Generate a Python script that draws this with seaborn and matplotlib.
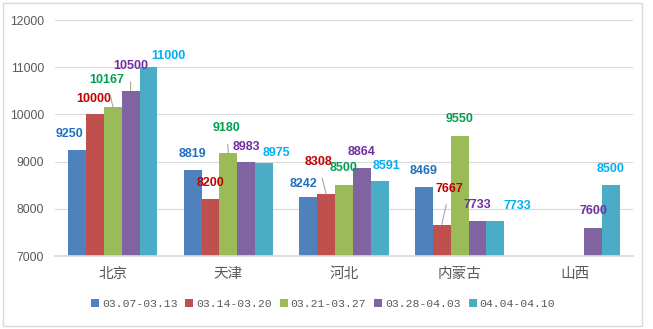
import numpy as np
import pandas as pd
import matplotlib
matplotlib.use("Agg")
import matplotlib.pyplot as plt
import seaborn as sns
from matplotlib.patches import Rectangle

# ---- data ----
provinces = ["北京", "天津", "河北", "内蒙古", "山西"]
weeks = ["03.07-03.13", "03.14-03.20", "03.21-03.27", "03.28-04.03", "04.04-04.10"]
w1 = [9250, 8819, 8242, 8469, np.nan]
w2 = [10000, 8200, 8308, 7667, np.nan]
w3 = [10167, 9180, 8500, 9550, np.nan]
w4 = [10500, 8983, 8864, 7733, 7600]
w5 = [11000, 8975, 8591, 7733, 8500]
yticks = [7000, 8000, 9000, 10000, 11000, 12000]

bar_colors = ["#4F81BD", "#C0504D", "#9BBB59", "#8064A2", "#4BACC6"]
label_colors = ["#1F6FC0", "#C00000", "#00A050", "#7030A0", "#00B0F0"]

# label offsets in pixels (dx, dy from bar top), per series per province
offsets = [
    [(-8, 16), (0, 16), (-5, 13), (0, 16), (0, 16)],
    [(-1, 15), (0, 16), (-8, 32), (8, 36), (0, 16)],
    [(-6, 27), (-2, 25), (0, 17), (0, 17), (0, 16)],
    [(0, 25), (0, 15), (0, 16), (0, 16), (0, 17)],
    [(20, 11), (12, 10), (7, 15), (22, 15), (0, 16)],
]
leader = {(1, 2), (1, 3), (2, 0), (2, 1), (3, 0)}

series = [w1, w2, w3, w4, w5]
df = pd.DataFrame({
    "province": [p for _ in weeks for p in provinces],
    "week": np.repeat(weeks, len(provinces)),
    "value": np.concatenate(series),
})

sns.set_theme(style="white")
plt.rcParams["font.family"] = ["Noto Sans CJK SC", "DejaVu Sans"]

fig = plt.figure(figsize=(6.53, 3.29), dpi=100)
ax = fig.add_axes([55 / 653, 1 - 256 / 329, (633 - 55) / 653, (256 - 20) / 329])

sns.barplot(data=df, x="province", y="value", hue="week",
            order=provinces, hue_order=weeks, palette=bar_colors,
            width=0.77, gap=0, ax=ax, legend=True, saturation=1, edgecolor="none")

ax.set_ylim(7000, 12000)
ax.set_yticks(yticks)
ax.set_yticklabels([str(t) for t in yticks], fontsize=8.8, color="#595959",
                   family="Liberation Sans")
ax.set_xlabel("")
ax.set_ylabel("")
ax.tick_params(axis="x", labelsize=10.5, colors="#595959", length=0, pad=8)
ax.tick_params(axis="y", length=0, pad=8)
ax.grid(axis="y", color="#D9D9D9", linewidth=0.8)
ax.set_axisbelow(True)
for s in ["top", "right", "left"]:
    ax.spines[s].set_visible(False)
ax.spines["bottom"].set_color("#D9D9D9")

# labels
for si, cont in enumerate(ax.containers):
    for pi, rect in enumerate(cont.patches):
        v = series[si][pi]
        if np.isnan(v):
            continue
        xc = rect.get_x() + rect.get_width() / 2
        top = rect.get_y() + rect.get_height()
        dx, dy = offsets[si][pi]
        arrow = None
        if (si, pi) in leader:
            arrow = dict(arrowstyle="-", color="#A6A6A6", lw=0.8,
                         shrinkA=5, shrinkB=0)
        ax.annotate(f"{int(v)}", xy=(xc, top), xytext=(dx, dy),
                    textcoords="offset pixels", ha="center", va="center",
                    fontsize=9, fontweight="bold", color=label_colors[si],
                    family="Liberation Sans", arrowprops=arrow,
                    annotation_clip=False)

leg = ax.get_legend()
handles, labels = ax.get_legend_handles_labels()
leg.remove()
fig.legend(handles, labels, loc="center", bbox_to_anchor=(323 / 653, 1 - 304 / 329),
           ncol=5, frameon=False, handlelength=0.7, handleheight=0.7,
           handletextpad=0.25, columnspacing=0.7,
           prop={"family": "Liberation Mono", "size": 8.2})
for t in fig.legends[0].get_texts():
    t.set_color("#595959")

fig.patches.append(Rectangle((3 / 653, 1 - 326 / 329), (642 - 3) / 653, (326 - 3) / 329,
                             transform=fig.transFigure, fill=False,
                             edgecolor="#D9D9D9", linewidth=1))

fig.savefig("out.png", dpi=100)
